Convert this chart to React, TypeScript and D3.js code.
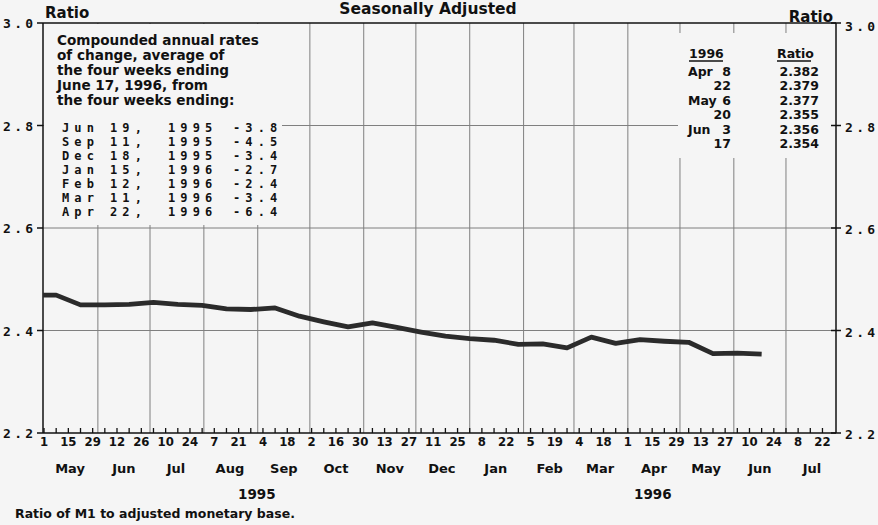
import React from "react";
import * as d3 from "d3";

const W = 878;
const H = 525;

// Biweekly ratio of M1 to adjusted monetary base
const dates: string[] = [
  "1995-04-24", "1995-05-08", "1995-05-22", "1995-06-05", "1995-06-19", "1995-07-03",
  "1995-07-17", "1995-07-31", "1995-08-14", "1995-08-28", "1995-09-11", "1995-09-25",
  "1995-10-09", "1995-10-23", "1995-11-06", "1995-11-20", "1995-12-04", "1995-12-18",
  "1996-01-01", "1996-01-15", "1996-01-29", "1996-02-12", "1996-02-26", "1996-03-11",
  "1996-03-25", "1996-04-08", "1996-04-22", "1996-05-06", "1996-05-20", "1996-06-03",
  "1996-06-17",
];
const ratios: number[] = [
  2.469, 2.469, 2.450, 2.450, 2.451, 2.455,
  2.451, 2.449, 2.442, 2.441, 2.444, 2.428,
  2.417, 2.407, 2.415, 2.406, 2.397, 2.389,
  2.384, 2.381, 2.373, 2.374, 2.366, 2.387,
  2.375, 2.382, 2.379, 2.377, 2.355, 2.356,
  2.354,
];

const yTicks: number[] = [2.2, 2.4, 2.6, 2.8, 3.0];
const yGrid: number[] = [2.4, 2.6, 2.8];
const monthNames: string[] = ["May", "Jun", "Jul", "Aug", "Sep", "Oct", "Nov", "Dec", "Jan", "Feb", "Mar", "Apr", "May", "Jun", "Jul"];
const yearLabels: string[] = ["1995", "1996"];

const boxLines: string[] = [
  "Compounded annual rates",
  "of change, average of",
  "the four weeks ending",
  "June 17, 1996, from",
  "the four weeks ending:",
];
const rateMonths: string[] = ["Jun", "Sep", "Dec", "Jan", "Feb", "Mar", "Apr"];
const rateDays: string[] = ["19,", "11,", "18,", "15,", "12,", "11,", "22,"];
const rateYears: string[] = ["1995", "1995", "1995", "1996", "1996", "1996", "1996"];
const rateValues: string[] = ["-3.8", "-4.5", "-3.4", "-2.7", "-2.4", "-3.4", "-6.4"];

const tableMonths: string[] = ["Apr", "", "May", "", "Jun", ""];
const tableDays: string[] = ["8", "22", "6", "20", "3", "17"];
const tableRatios: string[] = ["2.382", "2.379", "2.377", "2.355", "2.356", "2.354"];

const SANS = "'DejaVu Sans', Verdana, sans-serif";
const COND = "'DejaVu Sans Condensed', 'DejaVu Sans', sans-serif";
const MONO = "'DejaVu Sans Mono', monospace";
const BG = "#f5f5f5";

export default function App() {
  const left = 43, right = 836, top = 23, bottom = 433;
  const x = d3.scaleTime()
    .domain([new Date(1995, 3, 30, 10), new Date(1996, 6, 29, 19)])
    .range([left, right]);
  const y = d3.scaleLinear().domain([2.2, 3.0]).range([bottom, top]);
  const parse = d3.timeParse("%Y-%m-%d");
  const data = dates.map((d, i) => ({ date: parse(d) as Date, v: ratios[i] }));
  const line = d3.line<{ date: Date; v: number }>()
    .x((d) => x(d.date))
    .y((d) => y(d.v));

  const weeks = d3.timeMonday.range(new Date(1995, 4, 1), new Date(1996, 6, 28));
  const monthStarts = d3.timeMonth.range(new Date(1995, 5, 1), new Date(1996, 6, 2));
  const months = d3.timeMonth.range(new Date(1995, 4, 1), new Date(1996, 7, 1));
  const fmtDay = d3.timeFormat("%-d");

  return (
    <svg width={W} height={H} style={{ position: "absolute", left: 0, top: 0, background: BG }}>
      <defs>
        <clipPath id="plot">
          <rect x={left} y={top} width={right - left} height={bottom - top} />
        </clipPath>
      </defs>
      {/* grid */}
      {monthStarts.map((d, i) => (
        <line key={"vg" + i} x1={x(d)} x2={x(d)} y1={top} y2={bottom} stroke="#7f7f7f" strokeWidth={1} />
      ))}
      {yGrid.map((v) => (
        <line key={"hg" + v} x1={left} x2={right} y1={y(v)} y2={y(v)} stroke="#7f7f7f" strokeWidth={1} />
      ))}
      {/* cover boxes */}
      <rect x={left + 1} y={top + 1} width={282 - left - 1} height={226 - top - 2} fill={BG} />
      <rect x={678} y={33} width={832 - 678} height={158 - 33} fill={BG} />

      {/* axes frame */}
      <line x1={left} x2={right} y1={top} y2={top} stroke="#111" strokeWidth={1.5} />
      <line x1={left} x2={right} y1={bottom} y2={bottom} stroke="#111" strokeWidth={1.5} />
      <line x1={left} x2={left} y1={top} y2={bottom} stroke="#111" strokeWidth={1.5} />
      <line x1={right} x2={right} y1={top} y2={bottom} stroke="#111" strokeWidth={1.5} />

      {/* y ticks and labels */}
      {yTicks.map((v) => (
        <g key={"yt" + v}>
          <line x1={left - 6} x2={left} y1={y(v)} y2={y(v)} stroke="#111" strokeWidth={1.5} />
          <line x1={right - 5} x2={right + 5} y1={y(v)} y2={y(v)} stroke="#111" strokeWidth={1.5} />
          <text x={3} y={y(v) + 5} fontFamily={MONO} fontWeight="bold" fontSize={13} letterSpacing={3.3} fill="#111">
            {v.toFixed(1)}
          </text>
          <text x={845} y={y(v) + (v === 3.0 ? 8 : 6)} fontFamily={MONO} fontWeight="bold" fontSize={13} letterSpacing={3.3} fill="#111">
            {v.toFixed(1)}
          </text>
        </g>
      ))}

      {/* x ticks */}
      {weeks.map((d, i) => (
        <g key={"xt" + i}>
          <line x1={x(d)} x2={x(d)} y1={bottom} y2={bottom - 5} stroke="#111" strokeWidth={1.3} />
          {i % 2 === 0 && (
            <text x={x(d)} y={bottom + 13} textAnchor="middle" fontFamily={COND} fontWeight="bold" fontSize={13} fill="#111">
              {fmtDay(d)}
            </text>
          )}
        </g>
      ))}
      {months.map((m, i) => (
        <text key={"ml" + i} x={x(d3.timeDay.offset(m, 15))} y={473} textAnchor="middle" fontFamily={SANS} fontWeight="bold" fontSize={13} fill="#111">
          {monthNames[i]}
        </text>
      ))}
      <text x={(x(new Date(1995, 4, 1)) + x(new Date(1996, 0, 1))) / 2} y={499} textAnchor="middle" fontFamily={SANS} fontWeight="bold" fontSize={13.5} fill="#111">{yearLabels[0]}</text>
      <text x={(x(new Date(1996, 0, 1)) + right) / 2} y={499} textAnchor="middle" fontFamily={SANS} fontWeight="bold" fontSize={13.5} fill="#111">{yearLabels[1]}</text>

      {/* data line */}
      <path d={line(data) || ""} fill="none" stroke="#2b2b2b" strokeWidth={4.8} strokeLinejoin="round" clipPath="url(#plot)" />

      {/* titles */}
      <text x={428} y={14} textAnchor="middle" fontFamily={SANS} fontWeight="bold" fontSize={15.5} fill="#111">Seasonally Adjusted</text>
      <text x={45} y={18} fontFamily={SANS} fontWeight="bold" fontSize={15} fill="#111">Ratio</text>
      <text x={833} y={22} textAnchor="end" fontFamily={SANS} fontWeight="bold" fontSize={15} fill="#111">Ratio</text>

      {/* left annotation box */}
      {boxLines.map((t, i) => (
        <text key={"bl" + i} x={57} y={45 + i * 15} fontFamily={SANS} fontWeight="bold" fontSize={13.6} fill="#111">{t}</text>
      ))}
      {rateMonths.map((m, i) => {
        const by = 131.5 + i * 14.05;
        const common = { fontFamily: MONO, fontWeight: "bold", fontSize: 12, letterSpacing: 5.1, fill: "#111" } as any;
        return (
          <g key={"rr" + i}>
            <text x={62} y={by} {...common}>{m}</text>
            <text x={110} y={by} {...common}>{rateDays[i]}</text>
            <text x={168} y={by} {...common}>{rateYears[i]}</text>
            <text x={233} y={by} {...common}>{rateValues[i]}</text>
          </g>
        );
      })}

      {/* right table */}
      <text x={689} y={58} fontFamily={SANS} fontWeight="bold" fontSize={12.5} fill="#111">1996</text>
      <line x1={689} x2={723} y1={61} y2={61} stroke="#111" strokeWidth={1.3} />
      <text x={777} y={58} fontFamily={SANS} fontWeight="bold" fontSize={12.5} fill="#111">Ratio</text>
      <line x1={777} x2={811} y1={61} y2={61} stroke="#111" strokeWidth={1.3} />
      {tableDays.map((d, i) => {
        const by = 76 + i * 14.4;
        return (
          <g key={"tr" + i}>
            <text x={688} y={by} fontFamily={SANS} fontWeight="bold" fontSize={12.5} fill="#111">{tableMonths[i]}</text>
            <text x={731} y={by} textAnchor="end" fontFamily={SANS} fontWeight="bold" fontSize={12.5} fill="#111">{d}</text>
            <text x={819} y={by} textAnchor="end" fontFamily={SANS} fontWeight="bold" fontSize={12.5} fill="#111">{tableRatios[i]}</text>
          </g>
        );
      })}

      {/* footer */}
      <text x={15} y={518} fontFamily={SANS} fontWeight="bold" fontSize={12.5} fill="#111">Ratio of M1 to adjusted monetary base.</text>
    </svg>
  );
}
